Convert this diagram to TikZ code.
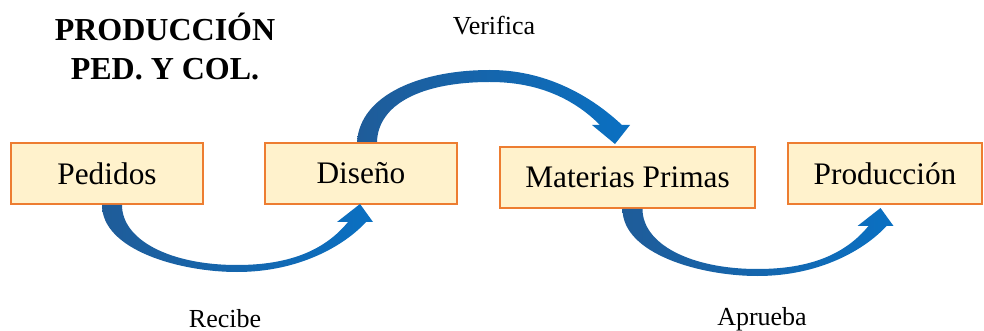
\documentclass[tikz,border=0pt]{standalone}
\usepackage{fontspec}
\setmainfont{Liberation Serif}
\usepackage{tikz}

\definecolor{boxfill}{HTML}{FFF2CC}
\definecolor{boxline}{HTML}{ED7D31}
\definecolor{arrowdark}{HTML}{1F5C99}
\definecolor{arrowlight}{HTML}{0A70C2}

\tikzset{
    box/.style={draw=boxline, fill=boxfill, line width=1.5pt, inner sep=0pt,
        outer sep=0pt, minimum height=45.75pt,
        font=\fontsize{23.5}{28}\selectfont},
    lbl/.style={anchor=base, inner sep=0pt, font=\fontsize{19.5}{23}\selectfont},
    titlelbl/.style={anchor=base, inner sep=0pt,
        font=\bfseries\fontsize{24}{28.5}\selectfont},
    curvedarrow/.style={left color=arrowdark, right color=arrowlight}
}

\begin{document}
\begin{tikzpicture}[x=0.75pt, y=-0.75pt]
\useasboundingbox (0,0) rectangle (984,331);

% Title in the upper left corner, one node per line
\node[titlelbl] (titulo1) at (165,41) {PRODUCCIÓN};
\node[titlelbl] (titulo2) at (165,80) {PED. Y COL.};

% The four steps of the process
\node[box, minimum width=144pt]    (pedidos)    at (107,173.5) {Pedidos};
\node[box, minimum width=144pt]    (diseno)     at (361,173.5) {Diseño};
\node[box, minimum width=191.25pt] (materias)   at (627.5,177.5) {Materias Primas};
\node[box, minimum width=145.5pt]  (produccion) at (885,173.5) {Producción};

% Curved block arrows below the boxes (outer edge, head, inner edge),
% drawn relative to the bottom of the box they leave from.
\foreach \src in {pedidos, materias} {
    \begin{scope}[shift={(\src.south)}]
    \shade[curvedarrow] (-5,1) .. controls (-5,46) and (73,68) .. (130,68)
        .. controls (193,68) and (238,41) .. (259,18)
        -- (266,18) -- (253,0) -- (230,18) -- (241,18)
        .. controls (218,46) and (183,61) .. (130,61)
        .. controls (63,61) and (15,36) .. (15,1) -- cycle;
    \end{scope}
}

% Curved block arrow over the top, from Diseño down onto Materias Primas
\begin{scope}[shift={(diseno.north)}]
\shade[curvedarrow] (-4,-1) .. controls (-1,-48) and (59,-73) .. (129,-73)
    .. controls (184,-73) and (229,-48) .. (261,-18)
    -- (269,-18) -- (254,1) -- (231,-18) -- (239,-18)
    .. controls (214,-43) and (179,-61) .. (129,-61)
    .. controls (59,-61) and (17,-38) .. (16,-1) -- cycle;
\end{scope}

% Labels of the arrows
\node[lbl] (verifica) at (494,35)  {Verifica};
\node[lbl] (recibe)   at (225,327) {Recibe};
\node[lbl] (aprueba)  at (762,325) {Aprueba};
\end{tikzpicture}
\end{document}
